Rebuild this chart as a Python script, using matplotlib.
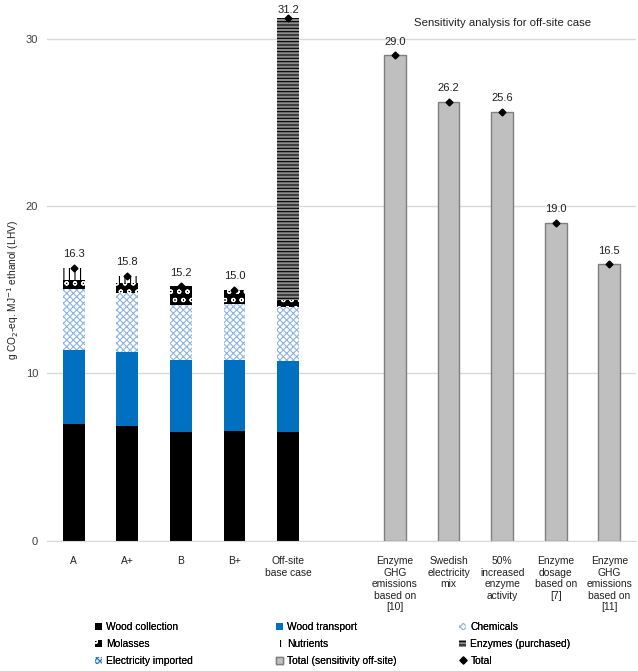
import matplotlib.pyplot as plt
import numpy as np

plt.rcParams['font.family'] = ['Liberation Sans', 'DejaVu Sans']
plt.rcParams['hatch.linewidth'] = 0.8

cases = ['A', 'A+', 'B', 'B+', 'Off-site\nbase case']
wood_collection = [6.95, 6.83, 6.50, 6.55, 6.50]
wood_transport = [4.47, 4.45, 4.28, 4.27, 4.22]
chemicals = [3.59, 3.49, 3.29, 3.29, 3.25]
molasses = [0.56, 0.60, 1.13, 0.89, 0.40]
nutrients = [0.73, 0.43, 0.0, 0.0, 0.0]
enzymes = [0.0, 0.0, 0.0, 0.0, 16.83]
electricity = [0.0, 0.0, 0.0, 0.0, 0.0]
totals = [16.3, 15.8, 15.2, 15.0, 31.2]

sens_cases = ['Enzyme\nGHG\nemissions\nbased on\n[10]', 'Swedish\nelectricity\nmix',
              '50%\nincreased\nenzyme\nactivity', 'Enzyme\ndosage\nbased on\n[7]',
              'Enzyme\nGHG\nemissions\nbased on\n[11]']
sens_totals = [29.0, 26.2, 25.6, 19.0, 16.5]

W, H = 638, 671
fig = plt.figure(figsize=(W / 100, H / 100), dpi=100)
ax = fig.add_axes([47 / W, 1 - 540.7 / H, 589 / W, 540.7 / H])

x1 = np.arange(len(cases))
x2 = np.arange(len(sens_cases)) + len(cases) + 1
w = 0.405

series = [
    (wood_collection, 'Wood collection', dict(color='black')),
    (wood_transport, 'Wood transport', dict(color='#0070C0')),
    (chemicals, 'Chemicals', dict(facecolor='white', edgecolor='#8DB4E2', hatch='xxxxx', linewidth=0)),
    (molasses, 'Molasses', dict(facecolor='black', edgecolor='white', hatch='oo', linewidth=0)),
    (nutrients, 'Nutrients', dict(facecolor='white', edgecolor='black', hatch='|||', linewidth=0)),
    (enzymes, 'Enzymes (purchased)', dict(facecolor='#8c8c8c', edgecolor='black', hatch='-----', linewidth=0)),
    (electricity, 'Electricity imported', dict(facecolor='#DDEBF7', edgecolor='#2E75B6', hatch='xxxxxx', linewidth=0)),
]
handles = {}
bottom = np.zeros(len(cases))
for vals, name, style in series:
    handles[name] = ax.bar(x1, vals, w, bottom=bottom, label=name, zorder=2, **style)
    bottom += np.array(vals)

handles['Total (sensitivity off-site)'] = ax.bar(
    x2, sens_totals, w, color='#BFBFBF', edgecolor='#7F7F7F', linewidth=1,
    label='Total (sensitivity off-site)', zorder=2)

xs = np.concatenate([x1, x2])
tots = totals + sens_totals
handles['Total'], = ax.plot(xs, tots, 'D', color='black', markersize=3.5,
                            linestyle='none', label='Total', zorder=3, clip_on=False)
for xi, t in zip(xs, tots):
    # label sits above the total; capped so the tallest one stays inside the figure
    ax.text(xi, min(t + 0.82, 31.7), f'{t:.1f}', ha='center', va='center', fontsize=8,
            color='#202020', clip_on=False)

ax.text(x2.mean(), 30.95, 'Sensitivity analysis for off-site case', ha='center',
        va='center', fontsize=8.2, color='#202020')

ax.set_xlim(-0.5, len(cases) + len(sens_cases) + 0.5)
ax.set_ylim(0, 32.3)
ax.set_yticks([0, 10, 20, 30])
ax.yaxis.grid(True, color='#D9D9D9', linewidth=1, zorder=0)
ax.set_axisbelow(True)
for s in ['top', 'right', 'left']:
    ax.spines[s].set_visible(False)
ax.spines['bottom'].set_color('#D9D9D9')
ax.tick_params(axis='y', length=0, labelsize=8, labelcolor='#404040', pad=6.5)
ax.tick_params(axis='x', length=0, labelsize=7.4, labelcolor='#202020', pad=11)
ax.set_xticks(list(x1) + list(x2))
ax.set_xticklabels(cases + sens_cases, va='top', linespacing=1.2)

fig.text(13 / W, 1 - 290 / H, 'g CO$_2$-eq. MJ$^{-1}$ ethanol (LHV)', rotation=90,
         ha='center', va='center', fontsize=7.3, color='#202020')

columns = [
    (['Wood collection', 'Molasses', 'Electricity imported'], 95),
    (['Wood transport', 'Nutrients', 'Total (sensitivity off-site)'], 276),
    (['Chemicals', 'Enzymes (purchased)', 'Total'], 459),
]
for names, xpos in columns:
    leg = fig.legend([handles[n] for n in names], names, loc='upper left',
                     bbox_to_anchor=(xpos / W, 1 - 622 / H), frameon=False,
                     fontsize=7.4, handlelength=0.7, handleheight=0.7,
                     handletextpad=0.4, labelspacing=0.68, borderpad=0,
                     borderaxespad=0)
    fig.add_artist(leg)

fig.savefig('out.png', dpi=100)
